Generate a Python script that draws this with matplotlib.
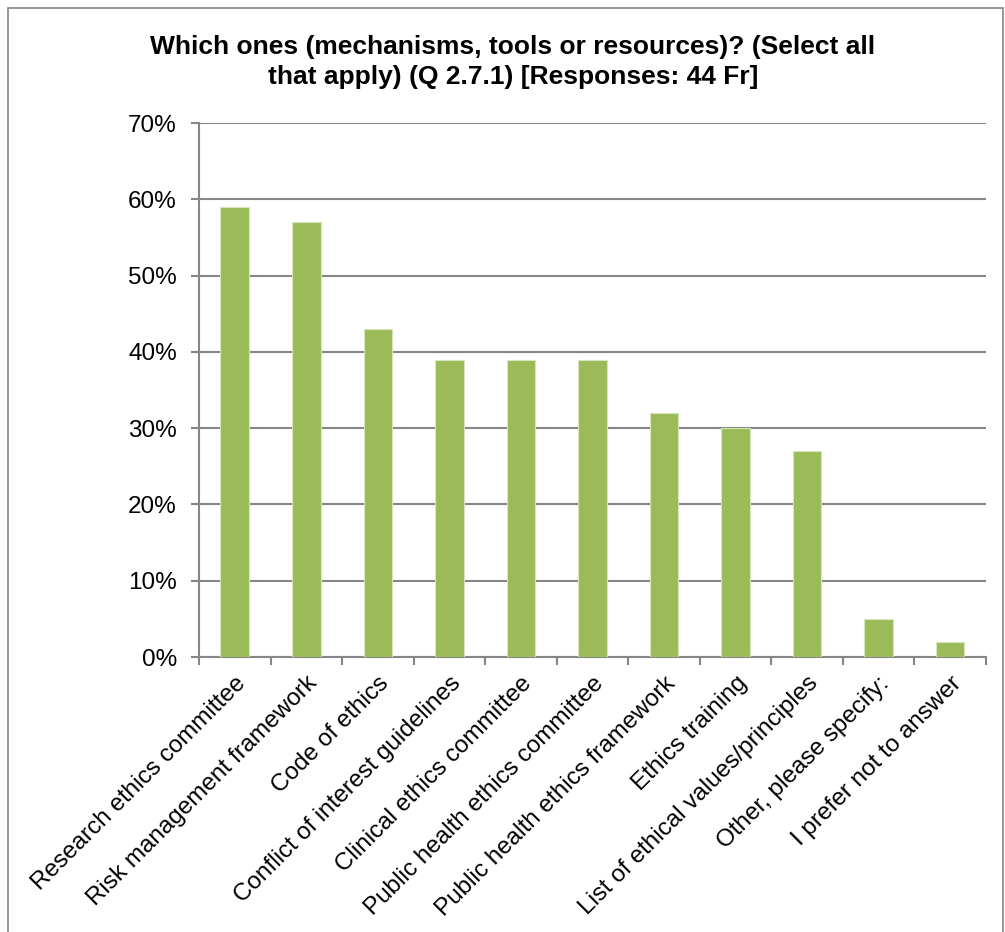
import matplotlib.pyplot as plt
import matplotlib.patches as patches
import numpy as np

plt.rcParams['font.family'] = ['Liberation Sans', 'DejaVu Sans']

categories = ['Research ethics committee', 'Risk management framework', 'Code of ethics',
              'Conflict of interest guidelines', 'Clinical ethics committee',
              'Public health ethics committee', 'Public health ethics framework',
              'Ethics training', 'List of ethical values/principles',
              'Other, please specify:', 'I prefer not to answer']
values = [59, 57, 43, 39, 39, 39, 32, 30, 27, 5, 2]

title = 'Which ones (mechanisms, tools or resources)? (Select all\nthat apply) (Q 2.7.1) [Responses: 44 Fr]'

fig = plt.figure(figsize=(10.05, 9.32), dpi=100)
ax = fig.add_axes([0.198, 0.295, 0.783, 0.573])

# outer chart border
fig.patches.append(patches.Rectangle((8/1005, -0.1), 995/1005, 1.1 - 8/932, transform=fig.transFigure,
                                     fill=False, edgecolor='#868686', linewidth=1.2))

x = np.arange(len(categories))
ax.bar(x, values, width=0.4, color='#9BBB59', edgecolor='#d7e4bd', linewidth=0.8, zorder=3)

ax.set_xlim(-0.5, len(categories) - 0.5)
ax.set_ylim(0, 70)
ax.set_yticks(np.arange(0, 71, 10))
ax.set_yticklabels([f'{v}%' for v in range(0, 71, 10)], fontsize=17.5)
ax.yaxis.grid(True, color='#868686', linewidth=1.5, zorder=0)
ax.set_axisbelow(True)

ax.set_xticks(x)
ax.set_xticklabels(categories, rotation=45, ha='right', rotation_mode='anchor', fontsize=17.5)
ax.tick_params(axis='x', length=0, pad=11)
ax.set_xticks(np.arange(-0.5, len(categories)), minor=True)
ax.tick_params(axis='x', which='minor', length=6, width=1.5, color='#868686', direction='out')
ax.tick_params(axis='y', length=6, width=1.5, color='#868686', direction='out', pad=10)

for s in ['top', 'right']:
    ax.spines[s].set_visible(False)
for s in ['left', 'bottom']:
    ax.spines[s].set_color('#868686')
    ax.spines[s].set_linewidth(1.5)

fig.text(513/1005, 1 - 62/932, title, ha='center', va='center', fontsize=19, fontweight='bold',
         linespacing=1.32)

fig.savefig('out.png', dpi=100)
